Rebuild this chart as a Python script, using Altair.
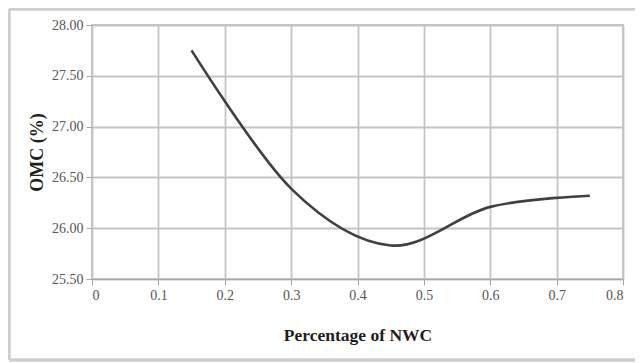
import altair as alt
import pandas as pd

nwc = [0.15, 0.30, 0.45, 0.60, 0.75]
omc = [27.75, 26.39, 25.83, 26.21, 26.32]

x_ticks = [0, 0.1, 0.2, 0.3, 0.4, 0.5, 0.6, 0.7, 0.8]
y_ticks = [25.5, 26.0, 26.5, 27.0, 27.5, 28.0]

df = pd.DataFrame({"nwc": nwc, "omc": omc})

FONT = "Liberation Serif"
GRID = "#c4c4c4"
FRAME = "#cfcfcf"

line = alt.Chart(df).mark_line(
    interpolate="cardinal", color="#404040", strokeWidth=2.6
).encode(
    x=alt.X("nwc:Q",
            scale=alt.Scale(domain=[0, 0.8], nice=False, zero=False),
            axis=alt.Axis(values=x_ticks, title="Percentage of NWC",
                          labelExpr="datum.value == 0 ? '0' : format(datum.value, '.1f')",
                          titlePadding=24)),
    y=alt.Y("omc:Q",
            scale=alt.Scale(domain=[25.5, 28.0], nice=False, zero=False),
            axis=alt.Axis(values=y_ticks, format=".2f", title="OMC (%)",
                          titlePadding=5)),
)

frame_left = alt.Chart(df).mark_rule(color=FRAME, strokeWidth=2.5, clip=False).encode(
    x=alt.value(-83), y=alt.value(-16), y2=alt.value(335)
)
frame_top = alt.Chart(df).mark_rule(color=FRAME, strokeWidth=2.5, clip=False).encode(
    x=alt.value(-83), x2=alt.value(560), y=alt.value(-16)
)
frame_bot = alt.Chart(df).mark_rule(color=FRAME, strokeWidth=2.5, clip=False).encode(
    x=alt.value(-83), x2=alt.value(560), y=alt.value(335)
)

chart = alt.layer(frame_left, frame_top, frame_bot, line).properties(
    width=531, height=254,
    autosize=alt.AutoSizeParams(type="none"),
    padding={"left": 84, "top": 17, "right": 12, "bottom": 84},
    background="white",
).configure_view(
    stroke=GRID, strokeWidth=1.8
).configure_axis(
    grid=True, gridColor=GRID, gridWidth=1.8,
    domainColor="#a8a8a8", domainWidth=1.2,
    tickColor="#a8a8a8", tickSize=6,
    labelFont=FONT, labelFontSize=14, labelColor="#555555",
    titleFont=FONT, titleFontSize=17.5, titleFontWeight="bold", titleColor="#1e1e1e",
    labelPadding=3,
).configure_axisY(
    domain=False, titleFontSize=18
)

chart.save("out.html", embed_options={"renderer": "svg", "actions": False})
